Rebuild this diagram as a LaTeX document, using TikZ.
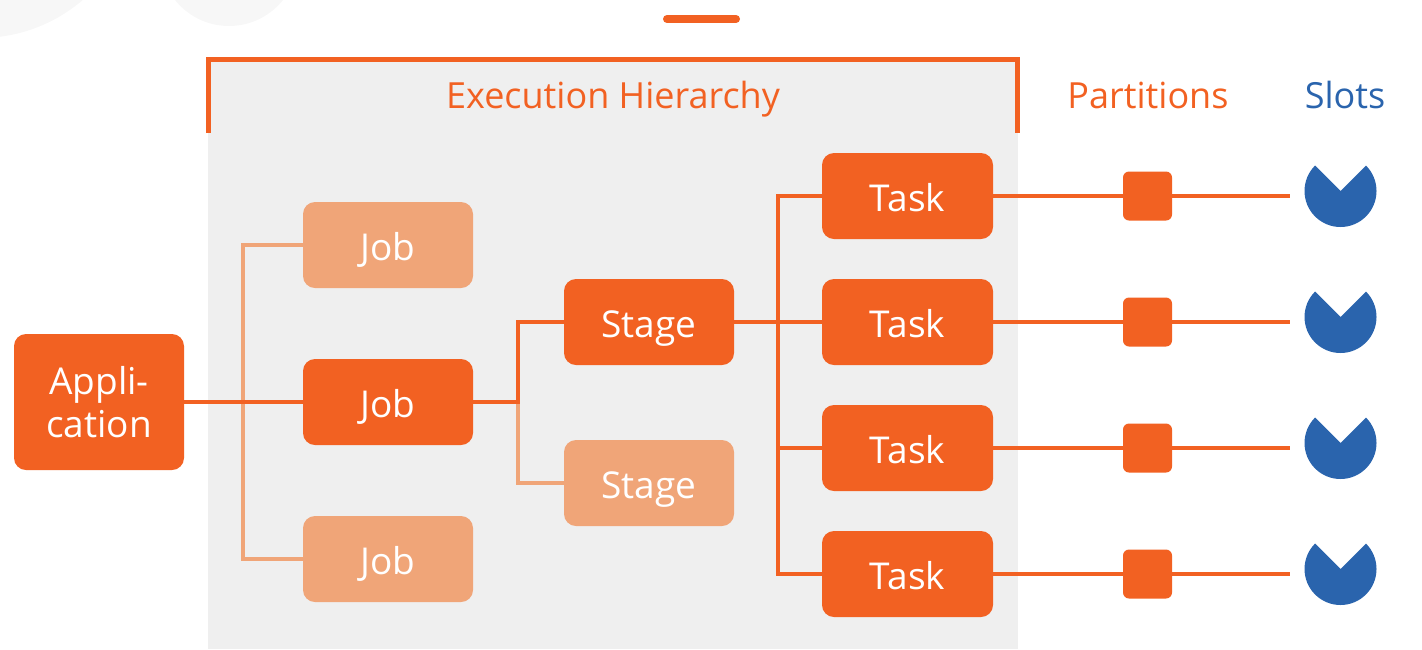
\documentclass[tikz,border=0pt]{standalone}
\usepackage{fontspec}
\setmainfont{Open Sans}
\definecolor{dk}{HTML}{F26122}
\definecolor{lt}{HTML}{F0A578}
\definecolor{bl}{HTML}{2A64AD}
\definecolor{bg}{HTML}{EFEFEF}
\definecolor{faint}{HTML}{F7F7F7}
\begin{document}
\begin{tikzpicture}[x=1pt,y=-1pt,
  box/.style={rounded corners=12pt, minimum width=170pt, minimum height=86pt, text=white, inner sep=0pt, text height=30pt, text depth=0pt, font=\fontsize{37}{43}\selectfont},
  dbox/.style={box, fill=dk},
  lbox/.style={box, fill=lt},
  part/.style={fill=dk, rounded corners=6pt, minimum size=49pt, inner sep=0pt},
  slotc/.style={circle, minimum size=72pt, inner sep=0pt},
  dl/.style={draw=dk, line width=4pt},
  ll/.style={draw=lt, line width=4pt},
  head/.style={font=\fontsize{36}{40}\selectfont, anchor=base, inner sep=0pt}]
\useasboundingbox (0,0) rectangle (1422,649);
% faint background circles
\fill[faint] (-20,-120) circle[radius=158];
\fill[faint] (229,-43) circle[radius=69];
% top bar
\draw[dk, line width=8pt, line cap=round] (667,19) -- (736,19);
% grey panel and bracket
\fill[bg] (208,60) rectangle (1018,649);
\draw[dk, line width=5pt] (208.5,133) -- (208.5,59.5) -- (1017.5,59.5) -- (1017.5,133);
\node[head, text=dk] (eh) at (613,108) {Execution Hierarchy};
\node[head, text=dk] (ph) at (1148,108) {Partitions};
\node[head, text=bl] (sh) at (1345,108) {Slots};
% nodes
\node[dbox, minimum height=136pt, align=center, text height=, text depth=] (app) at (99,402) {Appli-\\cation};
\node[lbox] (j1) at (388,245) {Job};
\node[dbox] (j2) at (388,402) {Job};
\node[lbox] (j3) at (388,559) {Job};
\node[dbox] (st1) at (649,322) {Stage};
\node[lbox] (st2) at (649,483) {Stage};
\node[dbox, minimum width=171pt] (t1) at (907.5,196) {Task};
\node[dbox, minimum width=171pt] (t2) at (907.5,322) {Task};
\node[dbox, minimum width=171pt] (t3) at (907.5,448) {Task};
\node[dbox, minimum width=171pt] (t4) at (907.5,574) {Task};
% connectors
\draw[ll] (j1.west) -- ++(-60,0) |- (j3.west);
\draw[dl] (app.east) -- (j2.west);
\path (j2.east) ++(45,0) coordinate (jb);
\draw[ll] (jb) |- (st2.west);
\draw[dl] (j2.east) -- (jb) |- (st1.west);
\path (st1.east) ++(44,0) coordinate (sb);
\draw[dl] (st1.east) -- (t2.west);
\draw[dl] (t1.west) -| (sb) |- (t4.west);
\draw[dl] (sb |- t3.west) -- (t3.west);
% partitions and slots
\foreach \i/\y in {1/196,2/322,3/448,4/574}{
  \coordinate (e\i) at (1290,\y);
  \node[slotc] (s\i) at (1340.5,\y-5) {};
  \draw[dl] (t\i.east) -- (e\i);
  \node[part] (p\i) at (1147.5,\y) {};
  \fill[bl] (s\i.center) -- ++(-45:36) arc[start angle=-45, end angle=225, radius=36] -- cycle;
}
\end{tikzpicture}
\end{document}
